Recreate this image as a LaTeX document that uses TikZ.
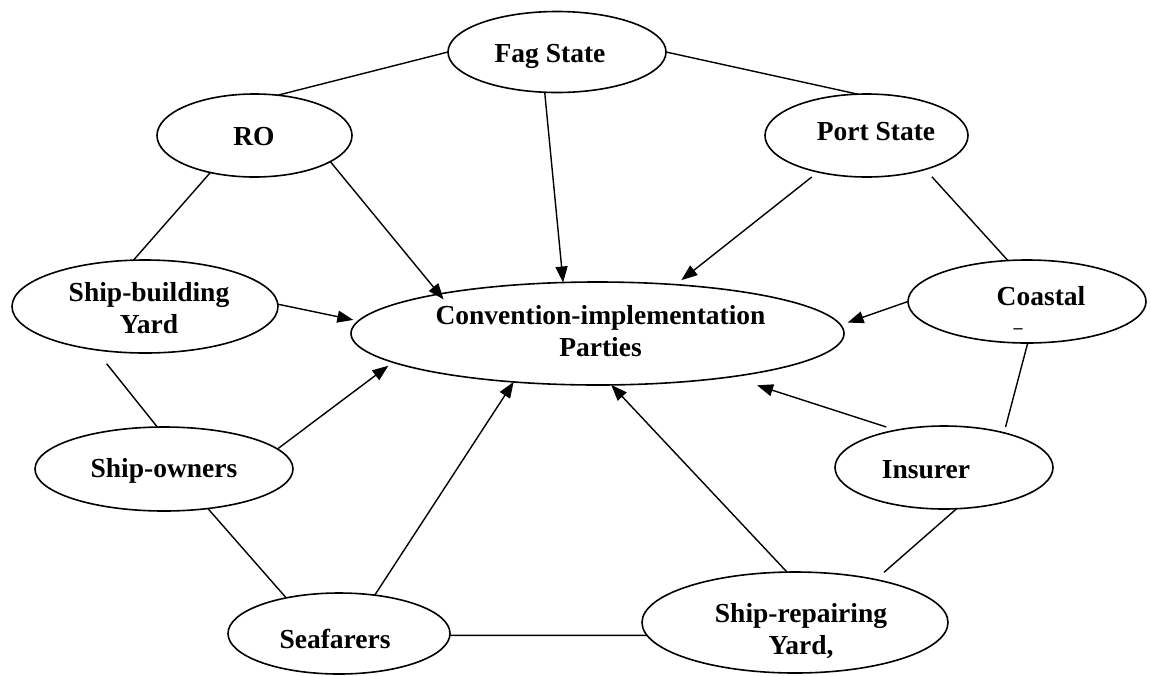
\documentclass[tikz,border=0pt]{standalone}
\usepackage{fontspec}
\setmainfont{Liberation Serif}
\usetikzlibrary{arrows.meta,shapes.geometric}
\begin{document}
\begin{tikzpicture}[x=1pt,y=-1pt,
  ell/.style={draw, line width=1.6pt, ellipse, inner sep=0pt, outer sep=0pt},
  lbl/.style={font=\fontsize{27.5}{32}\selectfont\bfseries, inner sep=0pt, align=center},
  con/.style={line width=1.4pt},
  arr/.style={line width=1.4pt, -{Triangle[length=16pt,width=12pt]}}]
\fill[white] (0,0) rectangle (1150,675);
\useasboundingbox (0,0) rectangle (1150,675);

% ellipses
\node[ell, minimum width=218pt, minimum height=81pt]  (fag)   at (557,52) {};
\node[ell, minimum width=195pt, minimum height=83pt]  (ro)    at (254.5,135.5) {};
\node[ell, minimum width=203pt, minimum height=83pt]  (port)  at (866.5,135.5) {};
\node[ell, minimum width=266pt, minimum height=93pt]  (sby)   at (145,306.5) {};
\node[ell, minimum width=493pt, minimum height=103pt] (conv)  at (597.5,333.5) {};
\node[ell, minimum width=238pt, minimum height=83pt]  (coast) at (1027,301.5) {};
\node[ell, minimum width=258pt, minimum height=84pt]  (own)   at (164,469) {};
\node[ell, minimum width=218pt, minimum height=83pt]  (ins)   at (944,467.5) {};
\node[ell, minimum width=222pt, minimum height=81pt]  (sea)   at (339,633.5) {};
\node[ell, minimum width=306pt, minimum height=101pt] (rep)   at (795,622.5) {};

% labels
\node[lbl, anchor=base] (fagT)   at (550,62)  {Fag State};
\node[lbl, anchor=base] (roT)    at (254,145) {RO};
\node[lbl, anchor=base] (portT)  at (876,140) {Port State};
\node[lbl]              (sbyT)   at (149,308.5) {Ship-building\\Yard};
\node[lbl]              (convT)  at (600.5,331.5) {Convention-implementation\\Parties};
\node[lbl, anchor=base] (coastT) at (1041,305) {Coastal};
\node[font=\fontsize{18}{18}\selectfont\bfseries, inner sep=0pt, anchor=base] (coastM) at (1018,333) {\textendash};
\node[lbl, anchor=base] (ownT)   at (164,477) {Ship-owners};
\node[lbl, anchor=base] (insT)   at (926,478) {Insurer};
\node[lbl, anchor=base] (seaT)   at (335,648) {Seafarers};
\node[lbl]              (repT)   at (801,630.6) {Ship-repairing\\Yard,};

% plain links around the ring
\draw[con] (ro.60.5) -- (fag.180);
\draw[con] (fag.0) -- (port.102.9);
\draw[con] (ro.220.6) -- (sby.104.5);
\draw[con, shorten <=18pt] (sby.221.8) -- (own.99.2);
\draw[con] (own.318.4) -- (sea.146.2);
\draw[con] (sea.-1) -- (rep.185);
\draw[con, shorten <=11pt] (rep.28.6) -- (ins.287);
\draw[con, shorten <=6pt] (ins.30.4) -- (coast.271);
\draw[con, shorten >=10pt] (coast.115.7) -- (port.330);

% arrows into the centre
\draw[arr, shorten >=-7pt] (ro.341.1) -- (conv.166.2);
\draw[arr] (fag.253.7) -- (conv.124);
\draw[arr, shorten <=8pt, shorten >=7.3pt] (port.217.2) -- (conv.32.6);
\draw[arr, shorten >=7.4pt] (coast.180) -- (conv.2.7);
\draw[arr, shorten >=5.2pt] (sby.1.5) -- (conv.177.85);
\draw[arr, shorten >=5.8pt] (own.10.9) -- (conv.188.6);
\draw[arr] (sea.47.7) -- (conv.210);
\draw[arr] (rep.99) -- (conv.285);
\draw[arr, shorten <=10.5pt, shorten >=27.6pt] (ins.142.9) -- (conv.342.9);
\end{tikzpicture}
\end{document}
